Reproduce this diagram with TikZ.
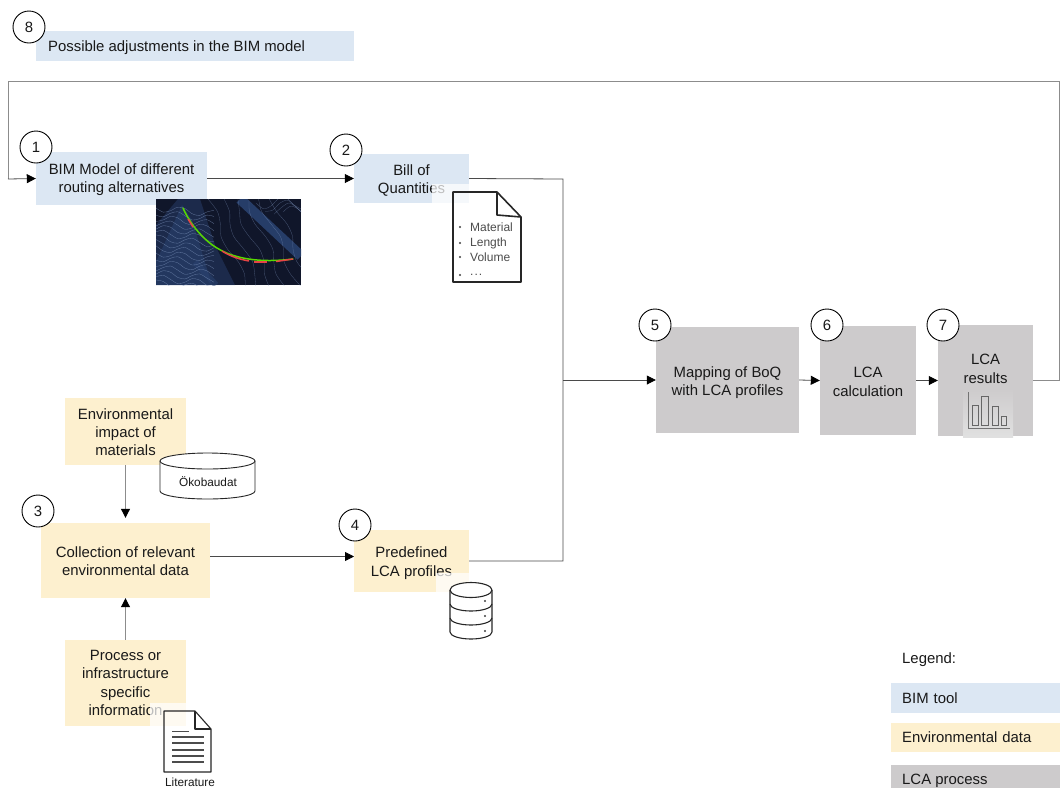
\documentclass[tikz,border=0pt]{standalone}
\usepackage{fontspec}
\setmainfont{Liberation Sans}
\usetikzlibrary{arrows.meta,calc}
\definecolor{bimc}{HTML}{DCE7F3}
\definecolor{envc}{HTML}{FDF0CF}
\definecolor{lcac}{HTML}{CDCBCC}
\definecolor{lnc}{HTML}{4A4A4A}
\definecolor{mapbg}{HTML}{10162A}
\definecolor{mapblue}{HTML}{2B4474}
\definecolor{mapline}{HTML}{7F95BD}
\def\threedots{.\kern1pt.\kern1pt.}
\tikzset{
 x=1pt,y=-1pt,
 every node/.style={font=\fontsize{14.9}{18.4}\selectfont,text=black!90},
 boxbase/.style={draw=none,inner sep=0pt,align=center},
 bimbox/.style={boxbase,fill=bimc},
 envbox/.style={boxbase,fill=envc},
 lcabox/.style={boxbase,fill=lcac},
 lbl/.style n args={2}{label={[align=center,inner sep=0pt,yshift=#1]center:#2}},
 leftbox/.style={inner xsep=12pt,inner ysep=0pt,align=left,anchor=west},
 numc/.style={circle,draw=black,line width=0.9pt,fill=white,minimum size=32pt,inner sep=0pt},
 conn/.style={draw=lnc,line width=0.8pt,-{Triangle[length=9pt,width=9pt,color=black]}},
 plain/.style={draw=lnc,line width=0.8pt},
 greyline/.style={draw=black!45,line width=1pt},
 icon/.style={draw=black!85,line width=1.1pt,line join=round},
 veil/.style={fill=white,opacity=0.72,draw=none},
 small/.style={font=\fontsize{11.8}{13}\selectfont},
 tiny/.style={font=\fontsize{12}{13}\selectfont,text=black!70,inner sep=0pt,anchor=west},
}
\begin{document}
\begin{tikzpicture}
\useasboundingbox (0,0) rectangle (1060,788);
\clip (0,0) rectangle (1060,788);

% boxes
\node[bimbox,minimum width=318pt,minimum height=30pt] (b8) at (195,46) {};
\node[inner sep=0pt,anchor=west] (b8t) at (48,47.5) {Possible adjustments in the BIM model};
\node[bimbox,minimum width=171pt,minimum height=53pt,lbl={-1pt}{BIM Model of different\\routing alternatives}] (b1) at (121.5,178.5) {};
\node[bimbox,minimum width=115pt,minimum height=49pt,lbl={-2pt}{Bill of\\Quantities}] (b2) at (411.5,178.5) {};
\node[envbox,minimum width=121pt,minimum height=67pt,lbl={-.6pt}{Environmental\\impact of\\materials}] (env) at (125.5,431.5) {};
\node[envbox,minimum width=169pt,minimum height=75pt,lbl={-.8pt}{Collection of relevant\\environmental data}] (b3) at (125.5,560.5) {};
\node[envbox,minimum width=115pt,minimum height=62pt,lbl={-2.2pt}{Predefined\\LCA profiles}] (b4) at (411.5,561) {};
\node[envbox,minimum width=121pt,minimum height=86pt,lbl={0pt}{Process or\\infrastructure\\specific\\information}] (proc) at (125.5,683) {};
\node[lcabox,minimum width=143pt,minimum height=106pt,lbl={-2.5pt}{Mapping of BoQ\\with LCA profiles}] (b5) at (727.5,380) {};
\node[lcabox,minimum width=96pt,minimum height=109pt,lbl={-1.5pt}{LCA\\calculation}] (b6) at (868,380.5) {};
\node[lcabox,minimum width=95pt,minimum height=111pt] (b7) at (985.5,380.5) {};
\node[boxbase] (b7t) at (985.5,368.7) {LCA\\results};

% connectors
\coordinate (j1) at (563,179);
\coordinate (j2) at (563,380);
\coordinate (j3) at (563,561);
\coordinate (top1) at (1059.5,81);
\coordinate (top2) at (8,81);
\coordinate (bot2) at (8,179);
\coordinate (out3) at (210,556.5);
\coordinate (in4) at (354,556.5);
\path[conn] (b1.east) -- (b2.west);
\path[plain] (b2.east) -- (j1) -- (j3) -- (b4.east);
\path[conn] (j2) -- (b5.west);
\path[conn] (b5.east) -- (b6.west);
\path[conn] (b6.east) -- (b7.west);
\path[greyline] (b7.east) -- (1059.5,380.5) -- (top1) -- (top2) -- (bot2);
\path[conn] (bot2) -- (b1.west);
\path[conn] (out3) -- (in4);
\draw[greyline,-{Triangle[length=9pt,width=9pt,color=black]},shorten >=5pt] (env.south) -- (b3.north);
\draw[greyline,-{Triangle[length=9pt,width=9pt,color=black]}] (proc.north) -- (b3.south);

% map image
\begin{scope}
\clip (156,199) rectangle (301,285);
\fill[mapbg] (156,199) rectangle (301,285);
\fill[mapblue,opacity=.45] (156,225) -- (178,199) -- (200,199) -- (215,245) -- (235,285) -- (156,285) -- cycle;
\fill[mapblue,opacity=.5] (156,262) -- (182,205) -- (192,220) -- (212,285) -- (156,285) -- cycle;
\draw[mapblue,line width=10pt,opacity=.85] (240,199) -- (301,256);
\draw[mapblue,line width=6pt,opacity=.5] (195,262) -- (216,285);
\foreach \k in {0,...,15}{
  \draw[mapline,line width=.3pt,opacity=.7] plot[smooth,domain=0:58,samples=9] ({156+\x},{208+\k*5+3.5*sin(11*\x+40*\k)+0.1*\x});
}
\foreach \k in {0,...,5}{
  \draw[mapline,line width=.3pt,opacity=.5] plot[smooth,domain=0:70,samples=8] ({208+\k*13+0.55*\x+4*sin(8*\x+50*\k)},{199+1.25*\x});
}
\foreach \k in {0,...,3}{
  \draw[mapline,line width=.3pt,opacity=.5] plot[smooth,domain=0:45,samples=7] ({256+\k*9+\x},{203+\k*3+6*sin(10*\x+60*\k)});
}
\draw[green!60!yellow!85!black,line width=1.5pt,line cap=round] (183,208) .. controls (191,226) and (205,241) .. (217,248) .. controls (235,259) and (260,263) .. (293,259);
\draw[red!70!white!90!black,line width=1.5pt] (188,219) -- (193,227);
\draw[red!70!white!90!black,line width=1.5pt] (222,251) .. controls (230,256) and (238,259) .. (249,261);
\draw[red!70!white!90!black,line width=1.5pt] (254,262) -- (267,262);
\draw[red!70!white!90!black,line width=1.5pt] (276,261.5) -- (293,259);
\end{scope}

% Bill of quantities document icon
\fill[veil] (432,184) rectangle (530,290);
\draw[icon,line width=1.6pt] (453,192) -- (497,192) -- (521,217) -- (521,282) -- (453,282) -- cycle;
\draw[icon,line width=1.6pt] (497,192) -- (497,215) -- (521,217);
\foreach \n/\yy/\lbltxt in {ma/227/Material,le/243/Length,vo/257/Volume,dd/275/\threedots}{
  \fill[black!75] (460,\yy) circle (1.2);
  \node[tiny] (doc\n) at (470,\yy) {\lbltxt};
}

% Cylinder
\draw[icon,fill=white,line width=.9pt] (160,461) -- (160,491) arc[start angle=180,end angle=0,x radius=47.5,y radius=8] -- (255,461) -- cycle;
\draw[icon,fill=white,line width=.9pt] (207.5,461) ellipse [x radius=47.5,y radius=8];
\node[small] (oeko) at (208,482) {Ökobaudat};

% Database icon
\fill[veil] (436,573) rectangle (505,645);
\draw[icon,fill=white] (450,590) -- (450,632) arc[start angle=180,end angle=0,x radius=21,y radius=7] -- (492,590);
\draw[icon,fill=white] (471,590) ellipse [x radius=21,y radius=7.5];
\draw[icon] (450,604) arc[start angle=180,end angle=0,x radius=21,y radius=7];
\draw[icon] (450,618) arc[start angle=180,end angle=0,x radius=21,y radius=7];
\foreach \yy in {601,616,631}{\fill[black!75] (485,\yy) circle (1.2);}

% Literature icon
\fill[veil] (150,703) rectangle (227,779);
\draw[icon] (164,711) -- (195,711) -- (211,729) -- (211,772) -- (164,772) -- cycle;
\draw[icon] (195,711) -- (195,729) -- (211,729);
\draw[black!70,line width=.9pt] (172,731) -- (189,731);
\foreach \yy in {737,743,750,756,762}{\draw[black!70,line width=1.1pt] (172,\yy) -- (204,\yy);}
\node[small] (lit) at (190,782) {Literature};

% chart image
\shade[top color=lcac,bottom color=black!12] (963,388) rectangle (1013,437);
\draw[black!55,line width=1pt] (968,392) -- (968,428) -- (1010,428);
\draw[black!60,line width=1pt] (972,425) rectangle (978,405);
\draw[black!60,line width=1pt] (981,425) rectangle (988,396);
\draw[black!60,line width=1pt] (992,425) rectangle (998,406);
\draw[black!60,line width=1pt] (1001,425) rectangle (1006,416);

% numbers
\node[numc] (n8) at (29,27) {8};
\node[numc] (n1) at (36,147) {1};
\node[numc] (n2) at (346,150) {2};
\node[numc] (n3) at (38,511) {3};
\node[numc] (n4) at (355,525) {4};
\node[numc] (n5) at (655,325) {5};
\node[numc] (n6) at (827,325) {6};
\node[numc] (n7) at (943,325) {7};

% legend
\node[inner sep=0pt,anchor=west] (leg) at (902,659.5) {Legend:};
\node[bimbox,leftbox,inner xsep=11pt,text width=147pt,minimum height=30pt] (l1) at (891,698) {BIM tool};
\node[envbox,leftbox,inner xsep=11pt,text width=147pt,minimum height=29pt] (l2) at (891,737.5) {Environmental data};
\fill[lcac] (891,765) rectangle (1060,788);
\node[inner sep=0pt,anchor=west] (l3) at (902,780.5) {LCA process};
\end{tikzpicture}
\end{document}
